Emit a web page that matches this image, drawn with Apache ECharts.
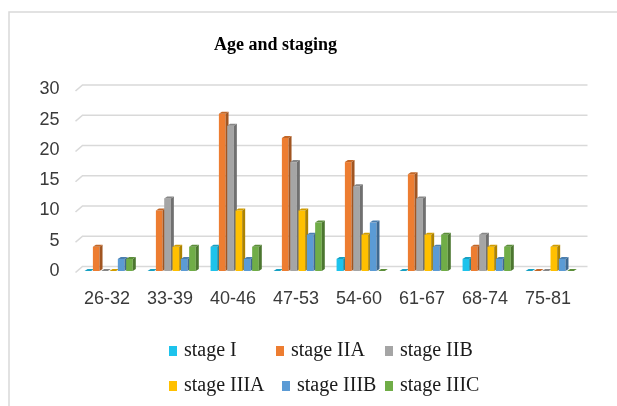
<!DOCTYPE html>
<html>
<head>
<meta charset="utf-8">
<script src="https://cdn.jsdelivr.net/npm/echarts@6/dist/echarts.min.js"></script>
<style>
  html, body { margin: 0; padding: 0; background: #ffffff; }
  #chart { width: 617px; height: 406px; }
</style>
</head>
<body>
<div id="chart"></div>
<script>
// Patients per age group, split by stage
const ageGroups = ['26-32', '33-39', '40-46', '47-53', '54-60', '61-67', '68-74', '75-81'];
const stageNames = ['stage I', 'stage IIA', 'stage IIB', 'stage IIIA', 'stage IIIB', 'stage IIIC'];
const stageI    = [0, 0, 4, 0, 2, 0, 2, 0];
const stageIIA  = [4, 10, 26, 22, 18, 16, 4, 0];
const stageIIB  = [0, 12, 24, 18, 14, 12, 6, 0];
const stageIIIA = [0, 4, 10, 10, 6, 6, 4, 4];
const stageIIIB = [2, 2, 2, 6, 8, 4, 2, 2];
const stageIIIC = [2, 4, 4, 8, 0, 6, 4, 0];
const yTicks = [0, 5, 10, 15, 20, 25, 30];

const stageValues = [stageI, stageIIA, stageIIB, stageIIIA, stageIIIB, stageIIIC];
const stageColors = ['#1DC3EC', '#ED7D31', '#A5A5A5', '#FFC000', '#5B9BD5', '#70AD47'];

function shade(hex, k) {
  const n = parseInt(hex.slice(1), 16);
  const r = Math.round(((n >> 16) & 255) * k);
  const g = Math.round(((n >> 8) & 255) * k);
  const b = Math.round((n & 255) * k);
  return 'rgb(' + r + ',' + g + ',' + b + ')';
}

// Column with a front face, a darker side and a top, giving a shallow 3D look
function columnRenderer(stageIdx, color) {
  const sideColor = shade(color, 0.68);
  const topColor = shade(color, 0.82);
  return function (params, api) {
    const cat = api.value(0);
    const val = api.value(1);
    const base = api.coord([cat, 0]);
    const tip = api.coord([cat, val]);
    const band = api.size([1, 0])[0];
    const pitch = band * 0.132;
    const w = pitch * 0.8;
    const dx = pitch * 0.36;
    const dy = pitch * 0.24;
    const x = base[0] - 3 * pitch + band * 0.04 + stageIdx * pitch;
    const y0 = base[1];
    const y1 = tip[1];
    return {
      type: 'group',
      children: [
        { type: 'rect', shape: { x: x, y: y1, width: w, height: y0 - y1 }, style: { fill: color } },
        { type: 'polygon', shape: { points: [[x + w, y1], [x + w + dx, y1 - dy], [x + w + dx, y0 - dy], [x + w, y0]] }, style: { fill: sideColor } },
        { type: 'polygon', shape: { points: [[x, y1], [x + dx, y1 - dy], [x + w + dx, y1 - dy], [x + w, y1]] }, style: { fill: topColor } }
      ]
    };
  };
}

// Back-wall gridlines with a short slanted floor edge on the left
function gridlineRenderer(params, api) {
  const cs = params.coordSys;
  const y = api.coord([0, api.value(1)])[1];
  return {
    type: 'polyline',
    shape: { points: [[cs.x, y + 1.5], [cs.x + 7, y - 4.5], [cs.x + cs.width + 8, y - 4.5]] },
    style: { stroke: '#D9D9D9', lineWidth: 1.6, fill: null }
  };
}

const legendSlots = [
  { left: 164, top: 336 }, { left: 271, top: 336 }, { left: 380, top: 336 },
  { left: 164, top: 371 }, { left: 277, top: 371 }, { left: 380, top: 371 }
];

const legends = stageNames.map((name, i) => ({
  data: [name],
  left: legendSlots[i].left,
  top: legendSlots[i].top,
  icon: 'rect',
  itemWidth: 8,
  itemHeight: 10,
  selectedMode: false,
  textStyle: { fontFamily: 'Liberation Serif', fontSize: 20, color: '#1a1a1a', padding: [0, 0, 0, 2] }
}));

const series = [{
  name: 'gridlines',
  type: 'custom',
  silent: true,
  z: 1,
  renderItem: gridlineRenderer,
  encode: { x: 0, y: 1 },
  data: yTicks.map(v => [0, v])
}];

stageNames.forEach((name, i) => {
  series.push({
    name: name,
    type: 'custom',
    z: 2,
    itemStyle: { color: stageColors[i] },
    renderItem: columnRenderer(i, stageColors[i]),
    encode: { x: 0, y: 1 },
    data: ageGroups.map((g, j) => [j, stageValues[i][j]])
  });
});

const chart = echarts.init(document.getElementById('chart'), null, { renderer: 'canvas' });
chart.setOption({
  animation: false,
  backgroundColor: '#ffffff',
  title: {
    text: 'Age and staging',
    left: 209,
    top: 31,
    textStyle: { fontFamily: 'Liberation Serif', fontWeight: 'bold', fontSize: 18, color: '#000000' }
  },
  graphic: [{
    type: 'polyline',
    silent: true,
    shape: { points: [[9, 406], [9, 12], [617, 12]] },
    style: { stroke: '#D9D9D9', lineWidth: 1.5, fill: null }
  }],
  legend: legends,
  grid: { left: 75.5, right: 37.5, top: 89.5, bottom: 135 },
  xAxis: {
    type: 'category',
    data: ageGroups,
    axisLine: { show: false },
    axisTick: { show: false },
    splitLine: { show: false },
    axisLabel: { margin: 19, fontFamily: 'Liberation Sans', fontSize: 18, color: '#3a3a3a' }
  },
  yAxis: {
    type: 'value',
    min: 0,
    max: 30,
    interval: 5,
    axisLine: { show: false },
    axisTick: { show: false },
    splitLine: { show: false },
    axisLabel: { margin: 16, padding: [5, 0, 0, 0], fontFamily: 'Liberation Sans', fontSize: 18, color: '#3a3a3a' }
  },
  series: series
});
</script>
</body>
</html>
